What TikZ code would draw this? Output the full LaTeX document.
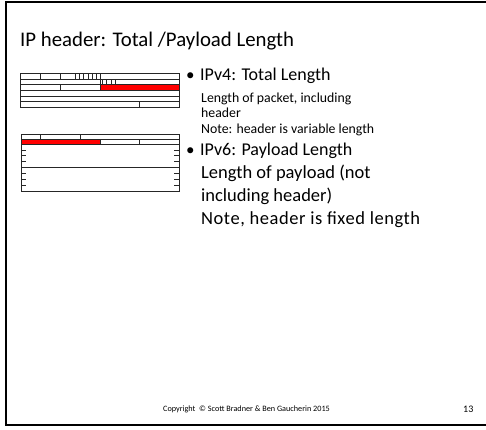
\documentclass[tikz,border=0pt]{standalone}
\usepackage{fontspec}
\setmainfont{Carlito}
\begin{document}
\begin{tikzpicture}[x=1pt,y=-1pt,
  hdr/.style={draw=black!85,line width=0.8pt},
  tick/.style={draw=black!85,line width=0.8pt},
  field/.style={fill=red,draw=black!85,line width=0.8pt},
  txt/.style={anchor=base west,inner sep=0pt,font=#1},
]
\useasboundingbox (0,0) rectangle (486,429);
\clip (0,0) rectangle (486,429);
% slide frame (right edge runs off the page)
\draw[line width=2.2pt] (6,2) rectangle (492,425);

% ---------- IPv4 header sketch ----------
\coordinate (v4tl) at (20.7,73.3);
\coordinate (v4br) at (179,107.3);
\fill[field] (100,84.7) rectangle (179,90.3);
\draw[hdr] (v4tl) rectangle (v4br);
\foreach \y in {79,84.7,90.3,96,101.7}
  \draw[hdr] (20.7,\y) -- (179,\y);
% row 1
\draw[tick] (40.5,73.3) -- (40.5,79);
\draw[tick] (60.3,73.3) -- (60.3,79);
\foreach \x in {75,79.3,83.7,88,92.3,96.7}
  \draw[tick] (\x,73.3) -- (\x,79);
\draw[tick] (100,73.3) -- (100,90.3);
% row 2
\foreach \x in {102.4,106.7,111,115.3}
  \draw[tick] (\x,79) -- (\x,84.7);
% row 3
\draw[tick] (60.3,84.7) -- (60.3,90.3);
% row 6
\draw[tick] (139,101.7) -- (139,107.3);

% ---------- IPv6 header sketch ----------
\fill[field] (21,139) rectangle (100,144.3);
\draw[hdr] (21,134) rectangle (179,191);
\draw[hdr] (21,139) -- (179,139);
\draw[hdr] (21,144.3) -- (179,144.3);
\draw[hdr] (21,167.3) -- (179,167.3);
\draw[tick] (40.5,134) -- (40.5,139);
\draw[tick] (80.2,134) -- (80.2,139);
\draw[tick] (139.3,139) -- (139.3,144.3);
\foreach \y in {150,155.5,161,173,179,185}{
  \draw[tick] (21,\y) -- (26,\y);
  \draw[tick] (174,\y) -- (179,\y);
}

% ---------- text ----------
\node[txt={\fontsize{20.8}{25}\selectfont}] (title) at (20,46) {IP header: Total /Payload Length};

\node[txt={\fontsize{17}{20}\selectfont}] (b1) at (186,80) {•};
\node[txt={\fontsize{18}{21}\selectfont}] (v4) at (200,80) {IPv4: Total Length};
\node[txt={\fontsize{13.8}{16}\selectfont}] (v4a) at (201,102) {Length of packet, including};
\node[txt={\fontsize{13.8}{16}\selectfont}] (v4b) at (201,117) {header};
\node[txt={\fontsize{13.8}{16}\selectfont}] (v4c) at (201,133) {Note: header is variable length};

\node[txt={\fontsize{17}{20}\selectfont}] (b2) at (186,155) {•};
\node[txt={\fontsize{18}{21}\selectfont}] (v6) at (200,155) {IPv6: Payload Length};
\node[txt={\fontsize{18.5}{22}\selectfont}] (v6a) at (201,178) {Length of payload (not};
\node[txt={\fontsize{18.5}{22}\selectfont}] (v6b) at (201,201) {including header)};
\node[txt={\fontsize{18.5}{22}\selectfont\addfontfeature{LetterSpace=3}}] (v6c) at (201,224) {Note, header is fixed length};

\node[txt={\fontsize{8.2}{10}\selectfont}] (copy) at (163,411) {Copyright \ © Scott Bradner \& Ben Gaucherin 2015};
\node[txt={\fontsize{10}{12}\selectfont}] (page) at (463,412) {13};
\end{tikzpicture}
\end{document}
